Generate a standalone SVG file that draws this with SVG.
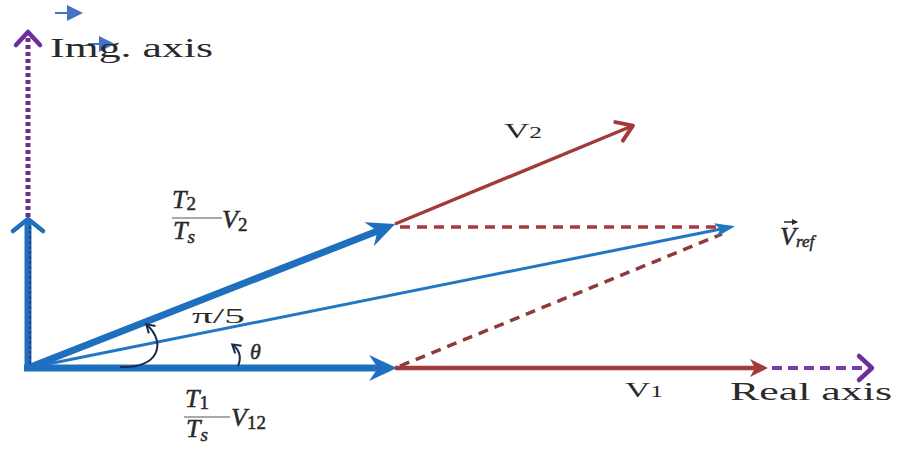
<svg xmlns="http://www.w3.org/2000/svg" width="899" height="450" viewBox="0 0 899 450">
<style>
  .lbl { font-family: "Liberation Serif", "DejaVu Serif", serif; fill: #2a2a2a; }
  .it { font-style: italic; }
  .math { stroke: #2a2a2a; stroke-width: 0.5; }
  .blueThick { stroke: #1f6fbf; stroke-width: 7; fill: none; }
  .blueThin { stroke: #2277c4; stroke-width: 3; fill: none; }
  .red { stroke: #a23a3c; stroke-width: 3.5; fill: none; }
  .redDash { stroke: #a8393f; stroke-width: 3.5; fill: none; stroke-dasharray: 10 7; }
  .purpleDash { stroke: #7a3aa8; stroke-width: 4; fill: none; stroke-dasharray: 10 6; }
  .purpleDot { stroke: #6a2f8f; stroke-width: 5; fill: none; stroke-dasharray: 4 3; }
  .arc { stroke: #1b2a4a; stroke-width: 2; fill: none; }
  .fracLine { stroke: #555; stroke-width: 1.2; }
</style>
<defs>
  <marker id="blueHead" markerUnits="userSpaceOnUse" viewBox="-20 -15 34 30" refX="0" refY="0" markerWidth="34" markerHeight="30" orient="auto">
    <path d="M12,0 L-16,-13 L-7,0 L-16,13 Z" fill="#1f6fbf"/>
  </marker>
  <marker id="blueChevron" markerUnits="userSpaceOnUse" viewBox="-16 -20 24 40" refX="0" refY="0" markerWidth="24" markerHeight="40" orient="auto">
    <path d="M-10,-15 L2,0 L-10,15" fill="none" stroke="#1f6fbf" stroke-width="4.5" stroke-linejoin="round" stroke-linecap="round"/>
  </marker>
  <marker id="blueSmall" markerUnits="userSpaceOnUse" viewBox="-20 -10 26 20" refX="0" refY="0" markerWidth="26" markerHeight="20" orient="auto">
    <path d="M4,0 L-16,-7 L-11,0 L-16,7 Z" fill="#2277c4"/>
  </marker>
  <marker id="redChevron" markerUnits="userSpaceOnUse" viewBox="-18 -14 24 28" refX="0" refY="0" markerWidth="24" markerHeight="28" orient="auto">
    <path d="M-14,-10 L1,0 L-14,10" fill="none" stroke="#a23a3c" stroke-width="4" stroke-linejoin="round" stroke-linecap="round"/>
  </marker>
  <marker id="redHead" markerUnits="userSpaceOnUse" viewBox="-20 -12 28 24" refX="0" refY="0" markerWidth="28" markerHeight="24" orient="auto">
    <path d="M4,0 L-14,-9 L-9,0 L-14,9 Z" fill="#a23a3c"/>
  </marker>
  <marker id="purpleChevron" markerUnits="userSpaceOnUse" viewBox="-18 -20 24 40" refX="0" refY="0" markerWidth="24" markerHeight="40" orient="auto">
    <path d="M-11,-12 L2,0 L-11,12" fill="none" stroke="#6a2f9a" stroke-width="4.5" stroke-linejoin="round" stroke-linecap="round"/>
  </marker>
  <marker id="smallBlue" markerUnits="userSpaceOnUse" viewBox="-18 -10 22 20" refX="0" refY="0" markerWidth="22" markerHeight="20" orient="auto">
    <path d="M2,0 L-14,-8 L-14,8 Z" fill="#4472c4"/>
  </marker>
  <marker id="arcHead" markerUnits="userSpaceOnUse" viewBox="-10 -8 14 16" refX="0" refY="0" markerWidth="14" markerHeight="16" orient="auto">
    <path d="M-7,-5 L1,0 L-7,5" fill="none" stroke="#1b2a4a" stroke-width="2"/>
  </marker>
  <marker id="vecHead" markerUnits="userSpaceOnUse" viewBox="-6 -4 8 8" refX="0" refY="0" markerWidth="8" markerHeight="8" orient="auto">
    <path d="M1,0 L-5,-3 L-5,3 Z" fill="#2a2a2a"/>
  </marker>
</defs>

<g id="connectors">
  <line id="img-axis" class="purpleDot" x1="28" y1="224" x2="28" y2="34" marker-end="url(#purpleChevron)"/>
  <line id="real-axis" class="purpleDash" x1="772" y1="368" x2="870" y2="368" marker-end="url(#purpleChevron)"/>
  <line id="dash-top" class="redDash" x1="400" y1="227" x2="728" y2="227"/>
  <line id="dash-diag" class="redDash" x1="400" y1="366" x2="722" y2="234" style="stroke:#8e3b3e"/>
  <line id="v2-vec" class="red" x1="395" y1="224" x2="632" y2="126" marker-end="url(#redChevron)"/>
  <line id="v1-vec" class="red" x1="395" y1="368" x2="764" y2="368" style="stroke-width:4.5" marker-end="url(#redHead)"/>
  <line id="vref-vec" class="blueThin" x1="28" y1="368" x2="731" y2="227" marker-end="url(#blueSmall)"/>
  <line id="t2-vec" class="blueThick" x1="28" y1="368" x2="384" y2="228.4" marker-end="url(#blueHead)"/>
  <line id="t1-vec" class="blueThick" x1="24" y1="368" x2="385" y2="368" marker-end="url(#blueHead)"/>
  <line id="vert-vec" class="blueThick" x1="28" y1="371" x2="28" y2="221" marker-end="url(#blueChevron)"/>
  <line class="purpleDot" x1="30" y1="364" x2="30" y2="226" style="stroke-width:2;stroke:#3a3a7a;stroke-dasharray:3 2"/>
  <path id="arc-pi5" class="arc" d="M120,367 C160,369 166,342 147,325" marker-end="url(#arcHead)"/>
  <path id="arc-theta" class="arc" d="M238,366 C242,357 239,350 233,345" marker-end="url(#arcHead)"/>
  <line x1="55" y1="13" x2="81" y2="13" stroke="#4472c4" stroke-width="2" marker-end="url(#smallBlue)"/>
  <line x1="88" y1="44" x2="113" y2="44" stroke="#4472c4" stroke-width="2" marker-end="url(#smallBlue)"/>
</g>

<g id="label-img-axis">
  <text class="lbl" x="50" y="57" font-size="27" textLength="163" lengthAdjust="spacingAndGlyphs">Img. axis</text>
</g>
<g id="label-real-axis">
  <text class="lbl" x="730" y="400" font-size="25" textLength="162" lengthAdjust="spacingAndGlyphs">Real axis</text>
</g>
<g id="label-v2">
  <text class="lbl" x="504" y="138" font-size="22" textLength="38" lengthAdjust="spacingAndGlyphs">V<tspan font-size="16">2</tspan></text>
</g>
<g id="label-v1">
  <text class="lbl" x="625" y="397" font-size="22" textLength="38" lengthAdjust="spacingAndGlyphs">V<tspan font-size="16">1</tspan></text>
</g>
<g id="label-t2v2">
  <text class="lbl it math" x="172" y="208" font-size="26">T<tspan font-style="normal" font-size="19" dy="2">2</tspan></text>
  <line class="fracLine" x1="172" y1="218" x2="222" y2="218"/>
  <text class="lbl it math" x="173" y="239" font-size="26">T<tspan font-size="19" dy="4">s</tspan></text>
  <text class="lbl it math" x="222" y="228" font-size="26">V<tspan font-style="normal" font-size="19" dy="3">2</tspan></text>
</g>
<g id="label-t1v12">
  <text class="lbl it math" x="185" y="407" font-size="26">T<tspan font-style="normal" font-size="19" dy="2">1</tspan></text>
  <line class="fracLine" x1="184" y1="417" x2="230" y2="417"/>
  <text class="lbl it math" x="186" y="437" font-size="26">T<tspan font-size="19" dy="4">s</tspan></text>
  <text class="lbl it math" x="231" y="426" font-size="26">V<tspan font-style="normal" font-size="19" dy="3">12</tspan></text>
</g>
<g id="label-pi5">
  <text class="lbl" x="192" y="323" font-size="21" textLength="53" lengthAdjust="spacingAndGlyphs">π/5</text>
</g>
<g id="label-theta">
  <text class="lbl it math" x="250" y="359" font-size="22">θ</text>
</g>
<g id="label-vref">
  <line x1="784" y1="222" x2="797" y2="222" stroke="#2a2a2a" stroke-width="1.5" marker-end="url(#vecHead)"/>
  <text class="lbl it math" x="780" y="245" font-size="26">V<tspan font-size="17" dy="2">ref</tspan></text>
</g>
</svg>
